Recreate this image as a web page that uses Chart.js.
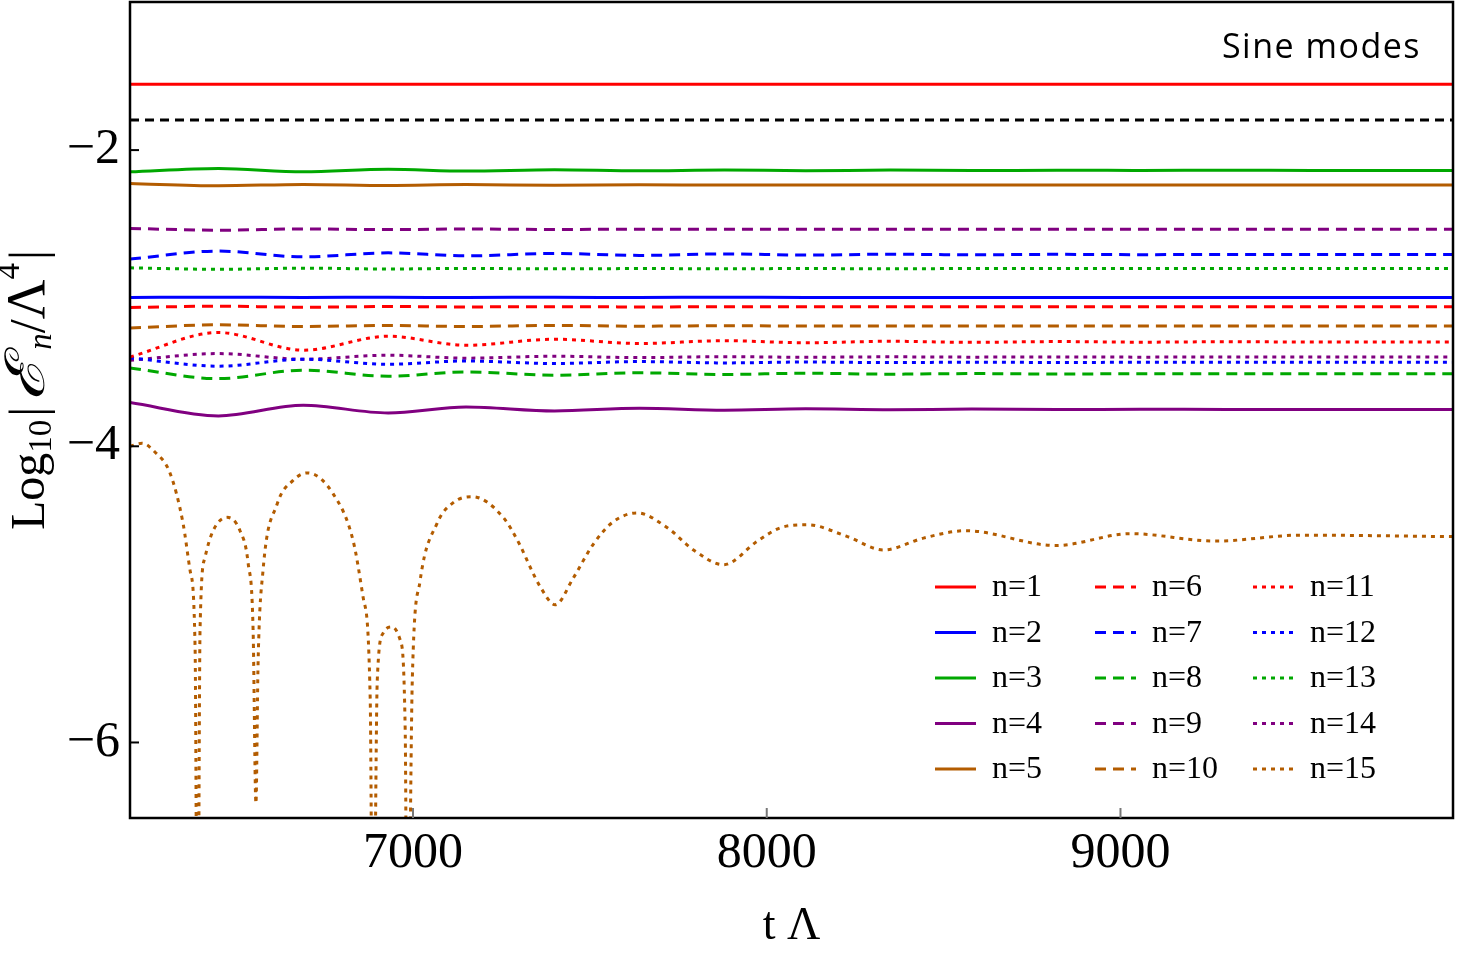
<!DOCTYPE html>
<html>
<head>
<meta charset="utf-8">
<script src="https://cdn.jsdelivr.net/npm/chart.js@4.4.1/dist/chart.umd.min.js"></script>
<style>html,body{margin:0;padding:0;background:#fff}</style>
</head>
<body>
<canvas id="c" width="1459" height="953"></canvas>
<script>
// shared time grid for the slowly oscillating modes
const tGrid = [6200, 6450, 6690, 6930, 7150, 7400, 7640, 7880, 8110, 8350, 8580, 8820, 9060, 9300, 9540, 9940];

const n1  = [-1.555, -1.555, -1.555, -1.555, -1.555, -1.555, -1.555, -1.555, -1.555, -1.555, -1.555, -1.555, -1.555, -1.555, -1.555, -1.555];
const ref = [-1.797, -1.797, -1.797, -1.797, -1.797, -1.797, -1.797, -1.797, -1.797, -1.797, -1.797, -1.797, -1.797, -1.797, -1.797, -1.797];
const n2  = [-2.995, -2.993, -2.995, -2.994, -2.995, -2.994, -2.995, -2.994, -2.995, -2.995, -2.995, -2.995, -2.995, -2.995, -2.995, -2.995];
const n3  = [-2.147, -2.124, -2.147, -2.130, -2.142, -2.132, -2.140, -2.134, -2.139, -2.135, -2.138, -2.136, -2.137, -2.136, -2.137, -2.137];
const n4  = [-3.705, -3.795, -3.723, -3.775, -3.734, -3.761, -3.743, -3.756, -3.747, -3.753, -3.749, -3.752, -3.750, -3.751, -3.751, -3.751];
const n5  = [-2.225, -2.241, -2.232, -2.239, -2.233, -2.237, -2.234, -2.236, -2.235, -2.236, -2.235, -2.235, -2.235, -2.235, -2.235, -2.235];
const n6  = [-3.063, -3.054, -3.061, -3.056, -3.059, -3.057, -3.059, -3.058, -3.058, -3.058, -3.058, -3.058, -3.058, -3.058, -3.058, -3.058];
const n7  = [-2.736, -2.682, -2.721, -2.694, -2.714, -2.698, -2.711, -2.701, -2.709, -2.703, -2.707, -2.704, -2.706, -2.705, -2.705, -2.705];
const n8  = [-3.471, -3.543, -3.486, -3.527, -3.498, -3.520, -3.504, -3.515, -3.507, -3.513, -3.509, -3.512, -3.510, -3.511, -3.511, -3.511];
const n9  = [-2.529, -2.541, -2.532, -2.537, -2.533, -2.536, -2.534, -2.535, -2.534, -2.535, -2.535, -2.535, -2.535, -2.535, -2.535, -2.535];
const n10 = [-3.201, -3.180, -3.191, -3.184, -3.191, -3.184, -3.189, -3.186, -3.188, -3.187, -3.188, -3.187, -3.188, -3.188, -3.188, -3.188];
const n11 = [-3.397, -3.232, -3.351, -3.257, -3.318, -3.277, -3.306, -3.287, -3.301, -3.291, -3.298, -3.293, -3.297, -3.294, -3.296, -3.295];
const n12 = [-3.403, -3.459, -3.412, -3.446, -3.424, -3.441, -3.428, -3.437, -3.431, -3.435, -3.432, -3.434, -3.433, -3.433, -3.433, -3.433];
const n13 = [-2.795, -2.805, -2.797, -2.803, -2.799, -2.802, -2.800, -2.801, -2.800, -2.801, -2.800, -2.800, -2.800, -2.800, -2.800, -2.800];
const n14 = [-3.419, -3.374, -3.412, -3.385, -3.405, -3.392, -3.401, -3.395, -3.399, -3.396, -3.398, -3.397, -3.398, -3.397, -3.397, -3.397];

// n=15 has its own sampling (log|E| dives at the zero crossings)
const t15 = [6200, 6234, 6271, 6313, 6350, 6370, 6384, 6391, 6398, 6412, 6435, 6474, 6511, 6534, 6548, 6556, 6562, 6576,
             6616, 6661, 6701, 6774, 6831, 6859, 6879, 6887, 6899, 6916, 6941, 6964, 6978, 6984, 6998, 7020, 7068, 7114,
             7167, 7255, 7303, 7332, 7360, 7402, 7453, 7510, 7566, 7634, 7719, 7793, 7878, 7974, 8039, 8115, 8228, 8330,
             8443, 8562, 8817, 9029, 9269, 9510, 9940];
const n15 = [-4.00, -3.98, -4.04, -4.18, -4.52, -4.84, -5.36, -8.0, -5.24, -4.75, -4.57, -4.48, -4.57, -4.79, -5.24, -6.41, -5.47, -4.84,
             -4.39, -4.23, -4.18, -4.32, -4.64, -5.02, -5.70, -8.0, -5.58, -5.26, -5.22, -5.31, -5.92, -8.0, -5.58, -4.91, -4.52, -4.38,
             -4.34, -4.48, -4.67, -4.82, -4.95, -5.07, -4.89, -4.66, -4.51, -4.45, -4.55, -4.70, -4.80, -4.64, -4.55, -4.53, -4.61, -4.70,
             -4.62, -4.57, -4.67, -4.59, -4.64, -4.60, -4.61];

const xTicks = [7000, 8000, 9000];
const yTicks = [-6, -4, -2];

const RED = '#ff0000', BLUE = '#0000ff', GREEN = '#00a800', PURPLE = '#800080', BROWN = '#b35c00';
const SOLID = [], DASH = [11, 7], DOT = [4, 5];

function pts(xs, ys) {
  return xs.map((x, i) => ({ x: x, y: ys[i] }));
}

function series(label, ys, color, dash, xs) {
  return {
    label: label,
    data: pts(xs || tGrid, ys),
    borderColor: color,
    borderDash: dash,
    borderWidth: 3,
    pointRadius: 0,
    fill: false,
    cubicInterpolationMode: 'monotone'
  };
}

const datasets = [
  series('n=1', n1, RED, SOLID),
  series('n=2', n2, BLUE, SOLID),
  series('n=3', n3, GREEN, SOLID),
  series('n=4', n4, PURPLE, SOLID),
  series('n=5', n5, BROWN, SOLID),
  series('n=6', n6, RED, DASH),
  series('n=7', n7, BLUE, DASH),
  series('n=8', n8, GREEN, DASH),
  series('n=9', n9, PURPLE, DASH),
  series('n=10', n10, BROWN, DASH),
  series('n=11', n11, RED, DOT),
  series('n=12', n12, BLUE, DOT),
  series('n=13', n13, GREEN, DOT),
  series('n=14', n14, PURPLE, DOT),
  series('n=15', n15, BROWN, DOT, t15)
];
const refLine = series('', ref, '#000000', [9, 6]);
datasets.push(refLine);

const SERIF = '"Liberation Serif", "Times New Roman", serif';

// frame, inward ticks, y title with sub/superscripts, corner label and legend
const overlay = {
  id: 'overlay',
  afterDraw(chart) {
    const ctx = chart.ctx;
    const a = chart.chartArea;
    const xs = chart.scales.x, ys = chart.scales.y;
    ctx.save();

    ctx.strokeStyle = '#000';
    ctx.lineWidth = 2.5;
    ctx.strokeRect(a.left, a.top, a.right - a.left, a.bottom - a.top);

    ctx.lineWidth = 2;
    yTicks.forEach(v => {
      const py = ys.getPixelForValue(v);
      ctx.beginPath();
      ctx.moveTo(a.left, py);
      ctx.lineTo(a.left + 9, py);
      ctx.stroke();
    });
    ctx.strokeStyle = '#777';
    xTicks.forEach(v => {
      const px = xs.getPixelForValue(v);
      ctx.beginPath();
      ctx.moveTo(px, a.bottom);
      ctx.lineTo(px, a.bottom - 10);
      ctx.stroke();
    });

    // y axis title: Log10|En/Λ4|
    ctx.fillStyle = '#000';
    ctx.translate(44, 390);
    ctx.rotate(-Math.PI / 2);
    const big = '48px ' + SERIF, small = '33px ' + SERIF;
    const parts = [
      { t: 'Log', f: big, dy: 0 },
      { t: '10', f: small, dy: 7, gap: 3 },
      { t: '|', f: '50px ' + SERIF, dy: 0, gap: 6 },
      { t: 'ℰ', f: 'italic 52px ' + SERIF, dy: 0, fit: 42, gap: 9 },
      { t: 'n', f: 'italic 33px ' + SERIF, dy: 7 },
      { t: '/', f: '50px ' + SERIF, dy: 0 },
      { t: 'Λ', f: '55px ' + SERIF, dy: 0 },
      { t: '4', f: small, dy: -25, gap: 3 },
      { t: '|', f: '50px ' + SERIF, dy: 0 }
    ];
    let total = 0;
    parts.forEach(p => {
      ctx.font = p.f;
      p.raw = ctx.measureText(p.t).width;
      p.w = (p.fit || p.raw) + (p.gap || 0);
      total += p.w;
    });
    let cx = -total / 2;
    ctx.textBaseline = 'alphabetic';
    ctx.textAlign = 'left';
    parts.forEach(p => {
      ctx.font = p.f;
      if (p.fit) {
        ctx.save();
        ctx.translate(cx, p.dy);
        ctx.scale(p.fit / p.raw, 1.05);
        ctx.fillText(p.t, 0, 0);
        ctx.restore();
      } else {
        ctx.fillText(p.t, cx, p.dy);
      }
      cx += p.w;
    });
    ctx.setTransform(1, 0, 0, 1, 0, 0);

    ctx.font = '34px "Open Sans", sans-serif';
    ctx.letterSpacing = '1.5px';
    ctx.textAlign = 'right';
    ctx.fillText('Sine modes', 1421, 58);
    ctx.letterSpacing = '0px';

    // legend: 3 columns of 5
    const labelled = chart.data.datasets.filter(d => d.label);
    ctx.font = '32px ' + SERIF;
    ctx.textAlign = 'left';
    ctx.textBaseline = 'middle';
    const colX = [935, 1095, 1253];
    labelled.forEach((d, i) => {
      const col = Math.floor(i / 5), row = i % 5;
      const x0 = colX[col], y0 = 587 + row * 45.5;
      ctx.strokeStyle = d.borderColor;
      ctx.lineWidth = 3;
      ctx.setLineDash(d.borderDash);
      ctx.beginPath();
      ctx.moveTo(x0, y0);
      ctx.lineTo(x0 + 41, y0);
      ctx.stroke();
      ctx.setLineDash([]);
      ctx.fillStyle = '#000';
      ctx.fillText(d.label, x0 + 57, y0 + 1);
    });
    ctx.restore();
  }
};

function noPad(s) {
  s.paddingTop = 0; s.paddingBottom = 0; s.paddingLeft = 0; s.paddingRight = 0;
}

new Chart(document.getElementById('c'), {
  type: 'line',
  data: { datasets: datasets },
  options: {
    responsive: false,
    animation: false,
    devicePixelRatio: 1,
    layout: { padding: { top: 2, right: 6, left: 0, bottom: 0 } },
    plugins: { legend: { display: false }, tooltip: { enabled: false } },
    scales: {
      x: {
        type: 'linear',
        min: 6200,
        max: 9940,
        afterBuildTicks: s => { s.ticks = xTicks.map(v => ({ value: v })); },
        afterFit: s => { s.height = 135; noPad(s); },
        grid: { display: false, drawTicks: false },
        border: { display: false },
        ticks: { color: '#000', font: { family: SERIF, size: 50 }, padding: 6, maxRotation: 0,
                 callback: v => String(v) },
        title: { display: true, text: 't Λ', color: '#000', font: { family: SERIF, size: 46, lineHeight: 1 }, padding: { top: 0, bottom: 3 } }
      },
      y: {
        type: 'linear',
        min: -6.51,
        max: -1.0,
        afterBuildTicks: s => { s.ticks = yTicks.map(v => ({ value: v })); },
        afterFit: s => { s.width = 130; noPad(s); },
        grid: { display: false, drawTicks: false },
        border: { display: false },
        ticks: { color: '#000', font: { family: SERIF, size: 50 }, padding: 10,
                 callback: v => String(v).replace('-', '\u2212') }
      }
    }
  },
  plugins: [overlay]
});
</script>
</body>
</html>
